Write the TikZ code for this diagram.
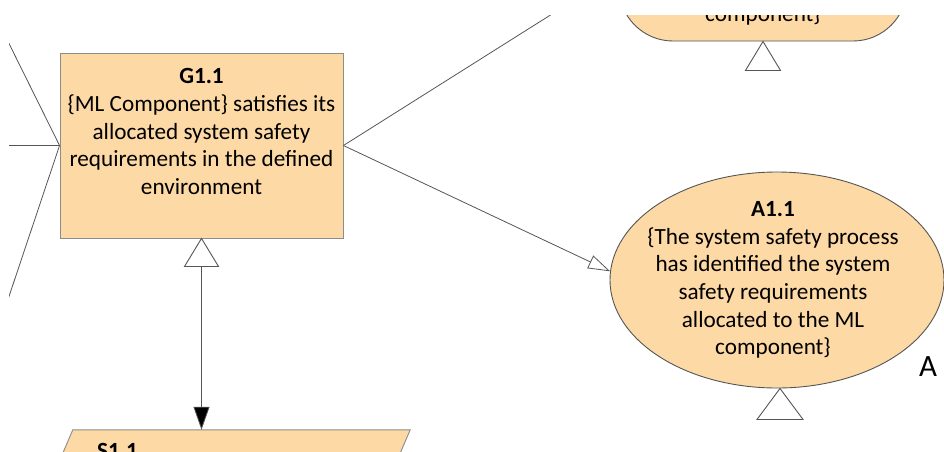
\documentclass[tikz,border=0pt]{standalone}
\usepackage{fontspec}
\setmainfont{Carlito}
\usepackage{tikz}
\usetikzlibrary{arrows.meta, positioning, shapes.geometric, calc}

\begin{document}
\begin{tikzpicture}[x=1pt, y=-1pt,
    goal/.style={rectangle, draw=boxline, fill=gsnfill, line width=0.9pt, minimum width=283pt, minimum height=185pt, inner sep=0pt},
    assum/.style={ellipse, draw=edgeline, fill=gsnfill, line width=0.9pt, minimum width=334pt, minimum height=216pt, inner sep=0pt},
    context/.style={rectangle, rounded corners=54pt, draw=edgeline, fill=gsnfill, line width=0.9pt, minimum width=288pt, minimum height=102pt, inner sep=0pt},
    strat/.style={rectangle, minimum width=337pt, minimum height=100pt, inner sep=0pt},
    stratfill/.style={draw=boxline, fill=gsnfill, line width=0.9pt},
    gsntext/.style={align=center, inner sep=0pt, font=\fontsize{23.2}{27.6}\selectfont},
    tagtext/.style={inner sep=0pt, font=\fontsize{31}{37}\selectfont},
    undev/.style={draw=edgeline, fill=white, line width=0.9pt, line join=miter},
    link/.style={draw=edgeline, line width=0.8pt},
    ctxarrow/.style={link, -{Triangle[open, length=22pt, width=14pt]}},
    suparrow/.style={link, -{Triangle[length=23pt, width=16pt, fill=black]}}]

    % Define colors
    \definecolor{gsnfill}{RGB}{253,217,166}
    \definecolor{boxline}{RGB}{140,140,140}
    \definecolor{edgeline}{RGB}{85,85,85}

    \useasboundingbox (0,0) rectangle (944,451);
    \clip (9,15) rectangle (944,451);

    % Nodes
    \node[goal] (g11) at (201.5,145.5) {};
    \node[gsntext, below=16pt of g11.north] (g11txt) {\textbf{G1.1}\\\{ML Component\} satisfies its\\allocated system safety\\requirements in the defined\\environment};

    \node[assum] (a11) at (777,280) {};
    \node[gsntext, xshift=-4pt] (a11txt) at (a11.center) {\textbf{A1.1}\\\{The system safety process\\has identified the system\\safety requirements\\allocated to the ML\\component\}};
    \node[tagtext] (a11tag) at (928,367) {A};

    \node[context] (c11) at (763,-10) {};
    \node[gsntext, anchor=base] (c11txt) at (763,21) {component\}};

    \node[strat] (s11) at (241.5,480) {};
    \draw[stratfill] (s11.north west) -- (s11.north east) -- ($(s11.south east)+(-43,0)$) -- ($(s11.south west)+(-43,0)$) -- cycle;
    \node[gsntext, anchor=base west] (s11txt) at (97,458) {\textbf{S1.1}};

    % Off-picture ends
    \coordinate (upleft) at (-20,-15);
    \coordinate (left) at (-20,145.5);
    \coordinate (downleft) at (-20,383);
    \coordinate (upright) at (606,-20);

    % Triangles below the nodes
    \draw[undev] (g11.south) -- ++(-17,28) -- ++(34,0) -- cycle;
    \coordinate (g11dec) at ($(g11.south)+(0,28)$);
    \draw[undev] (c11.south) -- ++(-17.5,29) -- ++(35,0) -- cycle;
    \draw[undev] ([xshift=3pt]a11.south) -- ++(-23,31) -- ++(46,0) -- cycle;

    % Connectors
    \draw[link] (g11.west) -- (upleft);
    \draw[link] (g11.west) -- (left);
    \draw[link] (g11.west) -- (downleft);
    \draw[link] (g11.east) -- (upright);
    \draw[ctxarrow] (g11.east) -- (a11.177);
    \draw[suparrow] (g11dec) -- (g11dec |- s11.north);

\end{tikzpicture}
\end{document}
